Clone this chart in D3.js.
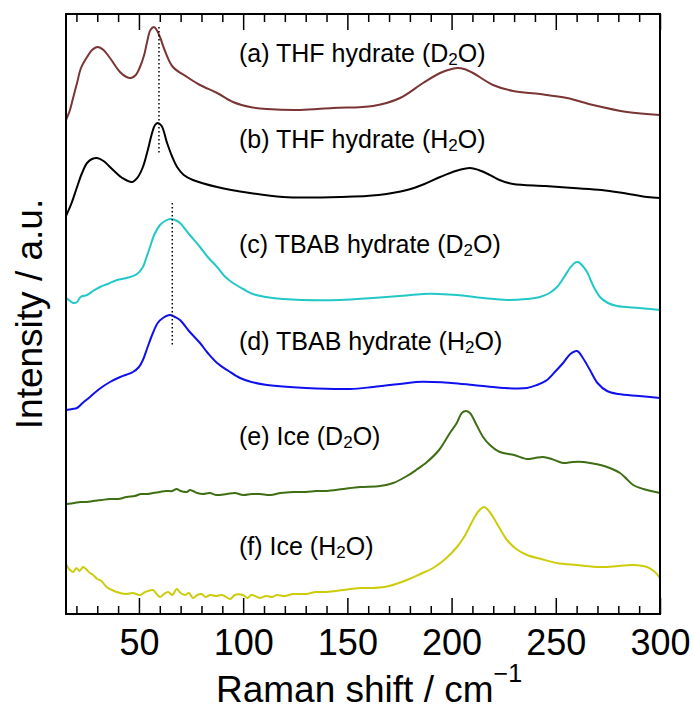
<!DOCTYPE html>
<html>
<head>
<meta charset="utf-8">
<script src="https://cdn.jsdelivr.net/npm/d3@7"></script>
<style>
body { margin: 0; background: #fff; }
text { font-family: "Liberation Sans", Arial, Helvetica, sans-serif; fill: #000; }
.frame { fill: none; stroke: #000; stroke-width: 2; }
.axis path { display: none; }
.axis line { stroke: #000; stroke-width: 1.5; }
</style>
</head>
<body>
<svg width="693" height="709"></svg>
<script>
// x in cm^-1, y in arbitrary units (offsets already included)
var thfD2O = [[15,4.94],[16.9,5.04],[18.4,5.16],[20.3,5.31],[22.2,5.46],[25.1,5.57],[27.5,5.64],[30.2,5.67],[33,5.64],[36.1,5.56],
  [40.9,5.42],[44,5.37],[46.2,5.36],[48.5,5.39],[50.5,5.47],[52.5,5.59],[53.9,5.72],[55.5,5.84],[57.2,5.87],[58.5,5.84],[60.1,5.77],
  [62.5,5.63],[66.3,5.47],[73.1,5.37],[79.3,5.29],[87.5,5.21],[95.1,5.12],[103.3,5.07],[111.4,5.05],[127.3,5.04],[143.1,5.06],
  [162.3,5.08],[175.3,5.16],[186.3,5.31],[194.5,5.41],[200,5.45],[203.1,5.46],[206,5.45],[210.3,5.41],[219.9,5.29],[229.5,5.23],
  [242.4,5.2],[255.4,5.16],[267.9,5.09],[284.2,5.02],[300,4.99]];
var thfH2O = [[15,3.98],[17.5,4.1],[20.3,4.27],[22.5,4.4],[25.1,4.51],[27.5,4.55],[29.9,4.56],[33,4.53],[37.6,4.44],[42,4.36],
  [46.7,4.32],[49.5,4.37],[51.9,4.47],[54,4.62],[56.3,4.81],[57.7,4.89],[59.1,4.91],[60.9,4.88],[63.5,4.71],[66,4.57],[68.3,4.47],
  [71.5,4.39],[75.9,4.34],[87.5,4.27],[103.3,4.21],[119.1,4.17],[146.5,4.17],[165,4.19],[178.6,4.24],[187,4.3],[194.5,4.37],
  [202,4.43],[208.8,4.46],[213,4.44],[218.4,4.39],[223,4.34],[229.5,4.3],[245,4.28],[258.3,4.26],[272,4.24],[282.3,4.21],
  [293.8,4.17],[300,4.16]];
var tbabD2O = [[15,3.16],[17,3.13],[18.5,3.11],[20.3,3.12],[22,3.17],[25.1,3.19],[28,3.23],[31.3,3.27],[35,3.3],[39.5,3.34],
  [44,3.36],[49.1,3.4],[51.9,3.47],[53.5,3.56],[55.3,3.67],[57.5,3.8],[60.1,3.89],[62.5,3.93],[64.9,3.95],[67.3,3.94],[69.7,3.91],
  [74,3.8],[79.3,3.67],[83,3.57],[87.5,3.47],[91,3.38],[95.1,3.31],[100,3.25],[104.7,3.2],[111,3.17],[119.1,3.15],[146.5,3.14],
  [162.3,3.16],[175,3.18],[186.3,3.2],[194,3.2],[202.6,3.19],[215,3.16],[226.6,3.14],[236,3.15],[242.4,3.17],[247,3.21],
  [250.6,3.27],[254,3.37],[256.8,3.46],[259,3.51],[260.7,3.52],[262.5,3.49],[265,3.42],[268,3.28],[271.2,3.17],[275,3.11],
  [279.4,3.08],[290,3.06],[300,3.04]];
var tbabH2O = [[15,2.04],[18,2.05],[20.3,2.06],[23,2.11],[26.5,2.17],[31,2.25],[36.1,2.32],[41,2.37],[47.1,2.42],[50,2.47],
  [51.9,2.54],[54,2.66],[56.7,2.81],[59,2.91],[61.5,2.96],[64.9,2.99],[67.3,2.97],[69.7,2.94],[74,2.83],[79.3,2.71],[83,2.61],
  [87.5,2.51],[93,2.43],[98.5,2.36],[104,2.32],[111.4,2.29],[130,2.26],[151.3,2.25],[162.3,2.27],[175,2.3],[183,2.32],
  [191.1,2.32],[200,2.31],[210.3,2.29],[225,2.26],[236.2,2.26],[241,2.29],[245.8,2.34],[250,2.43],[253.5,2.51],[257,2.6],
  [260.2,2.63],[263,2.56],[266.4,2.44],[270,2.31],[274.6,2.23],[280,2.2],[290,2.18],[300,2.16]];
var iceD2O = [[15.3,1.1],[19,1.11],[22,1.12],[25,1.12],[28,1.13],[32,1.14],[36,1.15],[40,1.15],[44.1,1.17],[48,1.18],[51,1.2],
  [54,1.2],[56.7,1.21],[60,1.22],[63,1.23],[66,1.23],[68.1,1.25],[70,1.23],[72.9,1.22],[74.5,1.24],[75.9,1.23],[78,1.21],
  [80.7,1.2],[84,1.21],[87,1.19],[92.1,1.2],[96,1.21],[100,1.19],[104,1.2],[108.1,1.2],[113,1.19],[118,1.21],[123.9,1.22],
  [130,1.22],[135,1.23],[140.1,1.23],[148,1.25],[156.1,1.27],[165.7,1.28],[172,1.31],[178.6,1.38],[183,1.44],[188.2,1.52],
  [194,1.64],[199.2,1.81],[202.5,1.91],[204.9,2.01],[206.9,2.03],[208.8,2.01],[212,1.89],[215.1,1.77],[218.4,1.69],[223.2,1.62],
  [230,1.59],[236.2,1.55],[240,1.56],[243.9,1.57],[248,1.55],[253.5,1.51],[258,1.52],[263.1,1.52],[269,1.5],[274.6,1.47],
  [280.8,1.41],[284,1.35],[287.1,1.29],[292,1.25],[300,1.21]];
var iceH2O = [[15.3,0.49],[16.5,0.45],[18.4,0.42],[20,0.46],[21.5,0.43],[23.2,0.47],[25,0.44],[26.5,0.41],[28,0.39],[30,0.35],
  [32,0.33],[34.5,0.27],[37,0.24],[40.9,0.21],[44,0.2],[47,0.21],[50.5,0.19],[53,0.22],[56.7,0.24],[58.5,0.2],[60.1,0.17],
  [62,0.2],[64,0.22],[66,0.19],[68.1,0.25],[70,0.21],[72,0.19],[74,0.21],[75.9,0.16],[78,0.19],[80,0.2],[82,0.17],[84.1,0.19],
  [87,0.18],[90,0.19],[93.7,0.15],[96,0.19],[99.9,0.19],[102,0.16],[104,0.19],[108.1,0.16],[111,0.18],[114,0.17],[116.1,0.19],
  [120,0.18],[123.9,0.2],[130,0.2],[135,0.22],[140.1,0.22],[148,0.24],[156.1,0.26],[162.3,0.26],[170,0.28],[178.6,0.34],
  [185,0.4],[191.1,0.46],[197,0.55],[202.6,0.67],[206,0.77],[210.3,0.94],[213,1.03],[215.6,1.07],[217.5,1.04],[219.9,0.97],
  [223,0.86],[226.6,0.74],[231,0.65],[236.2,0.59],[243,0.55],[250.6,0.51],[260,0.49],[271.2,0.47],[280,0.48],[287.1,0.49],
  [293.8,0.47],[297,0.43],[300,0.36]];

var seriesData = [thfD2O, thfH2O, tbabD2O, tbabH2O, iceD2O, iceH2O];
var seriesColors = ["#7a3434", "#000000", "#22c8c8", "#1010ee", "#3f6e14", "#cccc0c"];
var labelPrefix = ["(a) THF hydrate (", "(b) THF hydrate (", "(c) TBAB hydrate (", "(d) TBAB hydrate (", "(e) Ice (", "(f) Ice ("];
var labelIsotope = ["D", "H", "D", "H", "D", "H"];
var labelY = [5.52, 4.66, 3.61, 2.64, 1.69, 0.59];

var majorTicks = [50, 100, 150, 200, 250, 300];
var minorTicks = d3.range(20, 300, 10).filter(function (v) { return v % 50 != 0; });

// dotted guide lines: [x, yFrom, yTo]
var guides = [[59.6, 5.87, 4.59], [66.0, 4.11, 2.68]];

var svg = d3.select("svg");
var plotL = 66, plotR = 660, plotT = 14, plotB = 614;

var x = d3.scaleLinear().domain([15, 300]).range([plotL, plotR]);
var y = d3.scaleLinear().domain([0, 6]).range([plotB, plotT]);

var line = d3.line()
  .x(function (d) { return x(d[0]); })
  .y(function (d) { return y(d[1]); })
  .curve(d3.curveCatmullRom.alpha(0.5));

seriesData.forEach(function (d, i) {
  svg.append("path")
    .attr("d", line(d))
    .style("fill", "none")
    .style("stroke", seriesColors[i])
    .style("stroke-width", 2);
});

guides.forEach(function (g) {
  svg.append("line")
    .attr("x1", x(g[0])).attr("x2", x(g[0]))
    .attr("y1", y(g[1])).attr("y2", y(g[2]))
    .style("stroke", "#000")
    .style("stroke-width", 1.5)
    .style("stroke-dasharray", "1.5,2.5");
});

labelPrefix.forEach(function (p, i) {
  var t = svg.append("text")
    .attr("x", 239)
    .attr("y", y(labelY[i]))
    .attr("font-size", "25px");
  t.append("tspan").text(p + labelIsotope[i]);
  t.append("tspan").text("2").attr("font-size", "17px").attr("dy", 3);
  t.append("tspan").text("O)").attr("dy", -3);
});

// minor ticks
svg.append("g").attr("class", "axis")
  .attr("transform", "translate(0," + plotB + ")")
  .call(d3.axisBottom(x).tickValues(minorTicks).tickSize(-8).tickFormat(""));
svg.append("g").attr("class", "axis")
  .attr("transform", "translate(0," + plotT + ")")
  .call(d3.axisTop(x).tickValues(minorTicks).tickSize(-8).tickFormat(""));

// major ticks
var bottomAxis = svg.append("g").attr("class", "axis")
  .attr("transform", "translate(0," + plotB + ")")
  .call(d3.axisBottom(x).tickValues(majorTicks).tickSize(-16).tickPadding(15));
bottomAxis.selectAll("text").attr("font-size", "36px");
bottomAxis.attr("font-family", null);
svg.append("g").attr("class", "axis")
  .attr("transform", "translate(0," + plotT + ")")
  .call(d3.axisTop(x).tickValues(majorTicks).tickSize(-16).tickFormat(""));

svg.append("rect")
  .attr("class", "frame")
  .attr("x", plotL).attr("y", plotT)
  .attr("width", plotR - plotL).attr("height", plotB - plotT);

var xt = svg.append("text")
  .attr("x", (plotL + plotR) / 2 + 6)
  .attr("y", 702)
  .attr("text-anchor", "middle")
  .attr("font-size", "37px");
xt.append("tspan").text("Raman shift / cm");
xt.append("tspan").text("\u22121").attr("font-size", "25px").attr("dy", -20);

svg.append("text")
  .attr("transform", "translate(42," + ((plotT + plotB) / 2) + ") rotate(-90)")
  .attr("text-anchor", "middle")
  .attr("font-size", "37px")
  .text("Intensity / a.u.");
</script>
</body>
</html>
